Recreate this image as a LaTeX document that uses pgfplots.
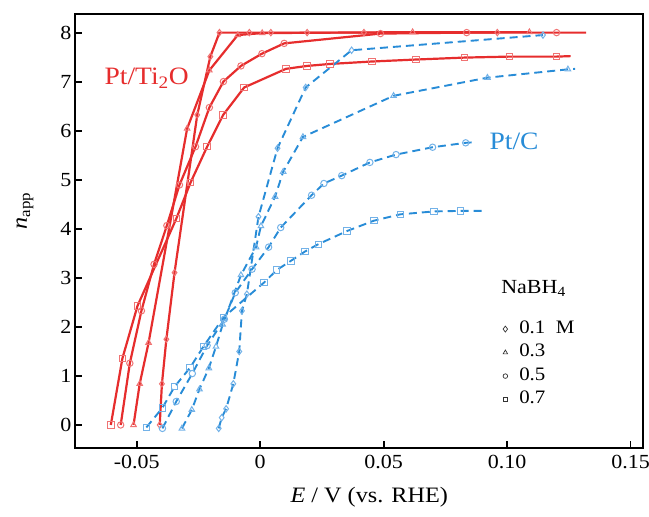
\documentclass[border=0pt]{standalone}
\usepackage{pgfplots}
\pgfplotsset{compat=1.18}
\usepackage{fontspec}
\setmainfont{Liberation Serif}[FakeStretch=1.1]

\definecolor{tired}{RGB}{230,45,45}
\definecolor{tiredm}{RGB}{240,115,115}
\definecolor{ptcblue}{RGB}{40,140,215}
\definecolor{ptcbluem}{RGB}{115,178,232}

\begin{document}
\begin{tikzpicture}
\begin{axis}[
    scale only axis,
    width=568pt, height=434pt,
    xmin=-0.075, xmax=0.155,
    ymin=-0.47, ymax=8.39,
    xtick={-0.05,0,0.05,0.1,0.15},
    xticklabels={-0.05,0,0.05,0.10,0.15},
    ytick={0,1,...,8},
    xtick pos=bottom, ytick pos=left,
    tick align=inside,
    major tick length=7pt,
    axis line style={line width=2.4pt},
    every tick/.style={black, line width=1.6pt},
    /pgf/number format/assume math mode=true,
    tick label style={font=\fontsize{20}{24}\selectfont},
    xticklabel style={yshift=-4pt},
    xlabel={\textit{E} / V (vs. RHE)},
    ylabel={\textit{n}\textsubscript{app}},
    label style={font=\fontsize{22}{26}\selectfont},
    xlabel style={at={(axis description cs:0.518,0)}, anchor=center, yshift=-49pt},
    ylabel style={at={([xshift=-50pt]axis description cs:0,0.546)}, anchor=center},
    legend style={at={(axis cs:0.0968,2.13)}, anchor=north west, draw=none, fill=none,
        inner sep=0pt, font=\fontsize{19}{21}\selectfont, row sep=7pt,
        nodes={inner sep=0pt, text height=12.5pt, text depth=4pt},
        /tikz/every odd column/.append style={column sep=8pt}},
    legend cell align=left,
    legend image code/.code={\draw[#1] plot coordinates {(0.2cm,0cm)}; \path (0cm,0cm) (0.4cm,0cm);},
    redl/.style={tired, line width=2.2pt, mark options={solid, tiredm, fill=white, line width=1pt, mark size=3.2pt}},
    bluel/.style={ptcblue, line width=1.9pt, dash pattern=on 8pt off 5pt, mark options={solid, ptcbluem, fill=white, line width=1pt, mark size=3.2pt}},
]
% Pt/Ti2O (solid red)
\addplot[redl, mark=diamond, mark size=4pt, forget plot] coordinates {
    (-0.0407,0) (-0.0398,0.84) (-0.0380,1.75) (-0.0347,3.11) (-0.0255,6.33)
    (-0.0202,7.52) (-0.0165,8.01) (-0.0044,8.01) (0.0043,8.01) (0.0190,8.01)
    (0.0420,8.01) (0.0960,8.01)
};
\addplot[redl, mark=triangle, mark size=3.8pt, forget plot] coordinates {
    (-0.0513,0) (-0.0488,0.84) (-0.0452,1.68) (-0.0296,6.05)
    (-0.0206,7.24) (-0.0091,7.96) (0.0008,8.00) (0.0617,8.02) (0.1090,8.02)
};
\addplot[redl, mark=o, mark indices={1,...,15}, forget plot] coordinates {
    (-0.0565,0) (-0.0528,1.26) (-0.0481,2.33) (-0.0430,3.28) (-0.0378,4.07)
    (-0.0327,4.90) (-0.0262,5.68) (-0.0206,6.48) (-0.0149,7.01) (-0.0078,7.33)
    (0.0007,7.58) (0.0097,7.79) (0.0487,7.99) (0.0836,8.01) (0.1200,8.01)
    (0.1320,8.01)
};
\addplot[redl, mark=square, mark size=3pt, mark indices={1,...,16}, forget plot] coordinates {
    (-0.0605,0) (-0.0558,1.36) (-0.0497,2.43) (-0.0340,4.21) (-0.0282,4.95)
    (-0.0215,5.68) (-0.0150,6.33) (-0.0065,6.89) (0.0104,7.27) (0.0190,7.33)
    (0.0282,7.37) (0.0453,7.42) (0.0630,7.46) (0.0827,7.50) (0.1010,7.52)
    (0.1200,7.52) (0.1257,7.53)
};
% Pt/C (dashed blue)
\addplot[bluel, mark=diamond, mark size=4pt, forget plot] coordinates {
    (-0.0168,-0.07) (-0.0156,0.15) (-0.0138,0.33) (-0.0109,0.84) (-0.0085,1.50)
    (-0.0074,2.33) (-0.0054,2.67) (-0.0007,4.25) (0.0070,5.65) (0.0184,6.89)
    (0.0370,7.65) (0.1145,7.96)
};
\addplot[bluel, mark=triangle, mark size=3.8pt, mark indices={1,...,15}, forget plot] coordinates {
    (-0.0317,-0.07) (-0.0277,0.31) (-0.0246,0.73) (-0.0208,1.16) (-0.0179,1.60)
    (-0.0152,2.05) (-0.0078,3.06) (-0.0017,3.63) (0.0003,4.06) (0.0060,4.66)
    (0.0093,5.17) (0.0173,5.88) (0.0540,6.72) (0.0920,7.09) (0.1246,7.26)
    (0.1275,7.27)
};
\addplot[bluel, mark=o, mark indices={1,...,16}, forget plot] coordinates {
    (-0.0396,-0.07) (-0.0340,0.48) (-0.0275,1.05) (-0.0215,1.62) (-0.0145,2.16)
    (-0.0101,2.70) (-0.0033,3.18) (0.0034,3.63) (0.0083,4.03) (0.0208,4.69)
    (0.0258,4.93) (0.0330,5.09) (0.0444,5.36) (0.0550,5.52) (0.0698,5.67)
    (0.0832,5.76) (0.0863,5.77)
};
\addplot[bluel, mark=square, mark size=3pt, mark indices={1,...,16}, forget plot] coordinates {
    (-0.0461,-0.05) (-0.0396,0.35) (-0.0347,0.78) (-0.0284,1.17) (-0.0230,1.60)
    (-0.0148,2.20) (0.0016,2.91) (0.0066,3.16) (0.0124,3.35) (0.0181,3.54)
    (0.0235,3.69) (0.0352,3.96) (0.0460,4.17) (0.0567,4.30) (0.0704,4.36)
    (0.0812,4.37) (0.0899,4.37)
};
% legend (concentration of NaBH4)
\addlegendimage{only marks, mark=diamond, mark options={black!80, fill=white, line width=0.7pt, mark size=3pt}}
\addlegendentry{0.1\ \ M}
\addlegendimage{only marks, mark=triangle, mark options={black!80, fill=white, line width=0.7pt, mark size=2.6pt}}
\addlegendentry{0.3}
\addlegendimage{only marks, mark=o, mark options={black!80, fill=white, line width=0.7pt, mark size=2.3pt}}
\addlegendentry{0.5}
\addlegendimage{only marks, mark=square, mark options={black!80, fill=white, line width=0.7pt, mark size=2.2pt}}
\addlegendentry{0.7}

\node[tired, font=\fontsize{25}{30}\selectfont] at (axis cs:-0.046,7.08) {Pt/Ti\textsubscript{2}O};
\node[ptcblue, font=\fontsize{25}{30}\selectfont] at (axis cs:0.1028,5.78) {Pt/C};
\node[font=\fontsize{20}{24}\selectfont, anchor=base west] at (axis cs:0.0962,2.69) {NaBH\textsubscript{4}};
\end{axis}
\pgfresetboundingbox
\path[use as bounding box] ([shift={(-75pt,-69pt)}]current axis.south west)
    rectangle ([shift={(6pt,14pt)}]current axis.north east);
\end{tikzpicture}
\end{document}
